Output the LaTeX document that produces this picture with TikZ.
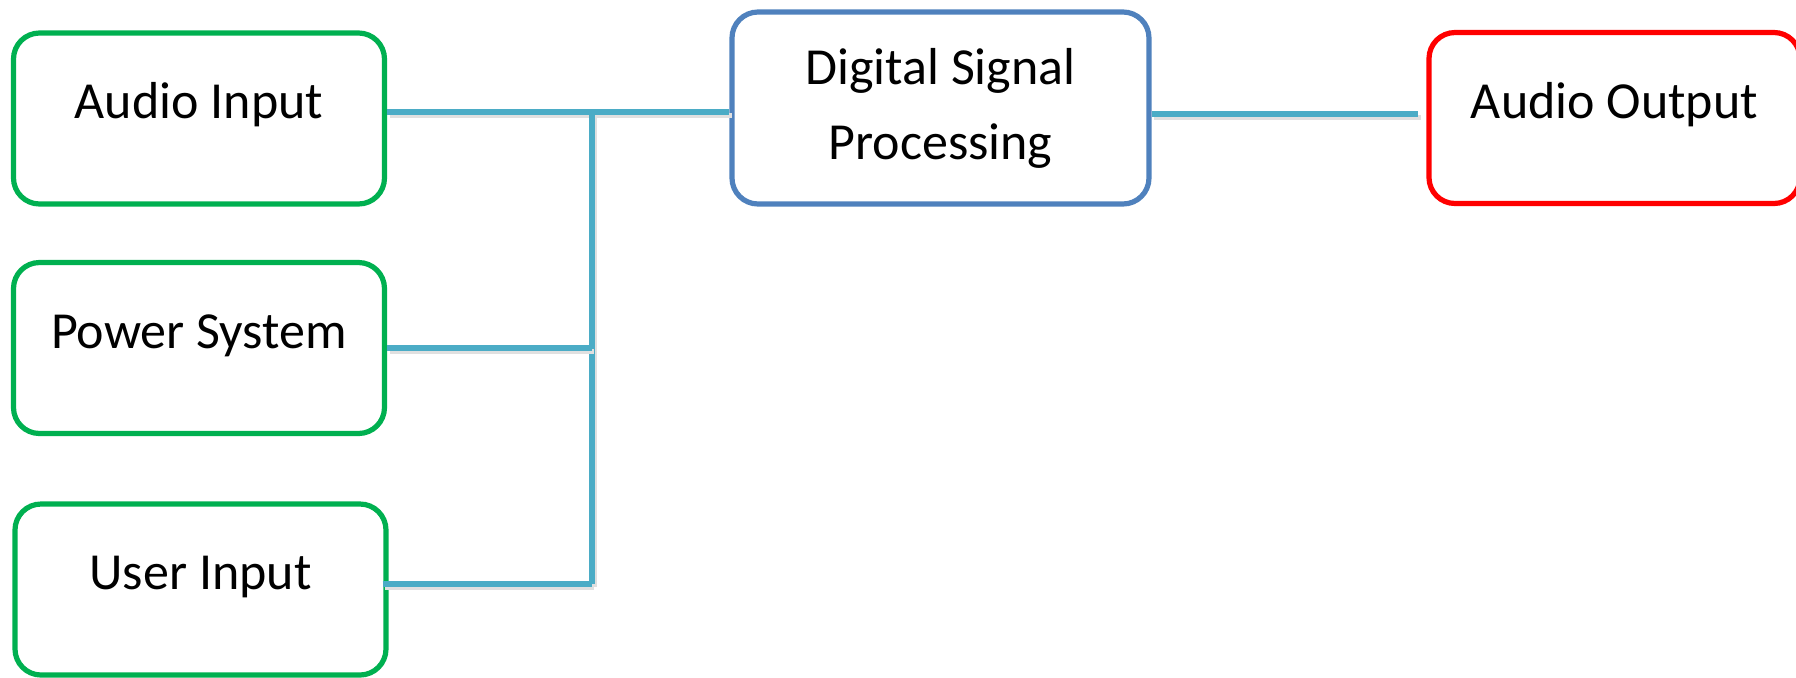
\documentclass[tikz,border=0pt]{standalone}
\usepackage{fontspec}
\setmainfont{Carlito}
\definecolor{ingreen}{RGB}{0,176,80}
\definecolor{dspblue}{RGB}{79,129,189}
\definecolor{outred}{RGB}{255,0,0}
\definecolor{wirecyan}{RGB}{75,172,198}
\begin{document}
\begin{tikzpicture}[x=0.5pt,y=-0.5pt,
block/.style={
draw,
rounded corners=13pt,
line width=2.6pt,
inner sep=0pt,
minimum width=185.5pt,
minimum height=85.5pt,
font=\fontsize{26}{37.5}\selectfont,
text height=17pt,
text depth=17pt
},
wire/.style={draw=wirecyan, line width=2.6pt,
preaction={draw=black!12, line width=2.6pt, transform canvas={shift={(1.2pt,-1.6pt)}}}}
]
\useasboundingbox (0,0) rectangle (1796,677);

\node[block, draw=ingreen] (ai) at (199,118.5) {Audio Input};
\node[block, draw=ingreen] (ps) at (199,348) {Power System};
\node[block, draw=ingreen] (ui) at (200.5,589.5) {User Input};
\node[block, draw=dspblue, align=center, text height=, text depth=,
  minimum width=208.5pt, minimum height=96pt] (dsp) at (940.5,108) {Digital Signal\\Processing};
\node[block, draw=outred] (ao) at (1614.5,118) {Audio Output};

\coordinate (bus top) at (592,112);
\coordinate (bus bottom) at (592,584);
\draw[wire] (ai.east |- bus top) -- (dsp.west |- bus top);
\draw[wire] (bus top) -- (bus bottom);
\draw[wire] (ps.east) -- (ps.east -| bus top);
\draw[wire] ([xshift=-3pt]ui.east |- bus bottom) -- (bus bottom);
\draw[wire] ([yshift=-3pt]dsp.east) -- ([yshift=-3pt,xshift=-4pt]dsp.east -| ao.west);

\end{tikzpicture}
\end{document}
